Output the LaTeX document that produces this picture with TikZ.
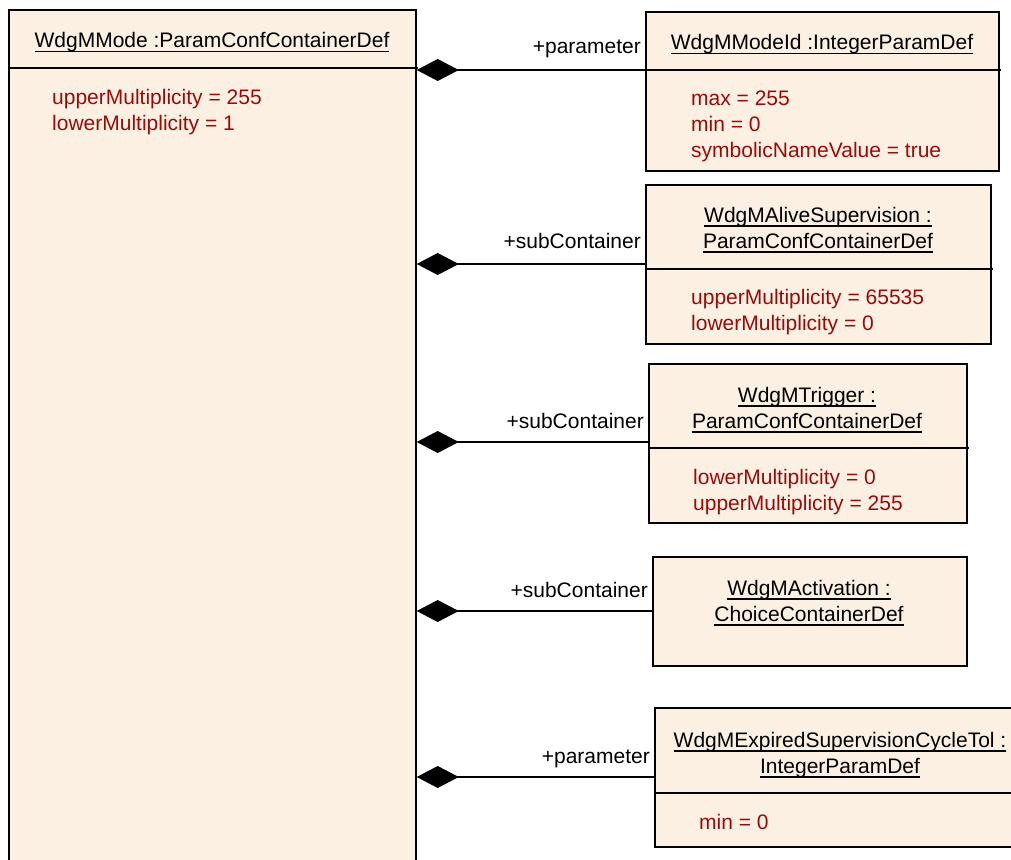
\documentclass[tikz,border=0pt]{standalone}
\usepackage{fontspec}
\setmainfont{Liberation Sans}
\usetikzlibrary{arrows.meta}
\definecolor{boxfill}{RGB}{251,240,226}
\definecolor{attrred}{RGB}{155,10,10}
\newcommand\myul[1]{\setbox0\hbox{#1}\rlap{\rule[-4.5pt]{\wd0}{1.5pt}}\box0}
\begin{document}
\begin{tikzpicture}[x=1pt,y=-1pt,
  cls/.style={draw=black,line width=1.7pt,fill=boxfill,rectangle,anchor=north west,inner sep=0pt},
  ttl/.style={anchor=base,font=\fontsize{21}{26}\selectfont,inner sep=0pt,yshift=-1pt},
  att/.style={anchor=base west,text=attrred,font=\fontsize{21}{26}\selectfont,inner sep=0pt,yshift=-1pt},
  lbl/.style={anchor=base east,font=\fontsize{21}{26}\selectfont,inner sep=0pt,yshift=-1pt},
  sep/.style={line width=1.7pt},
  comp/.style={line width=1.7pt,{Diamond[length=42pt,width=22pt]}-}
]
\useasboundingbox (0,0) rectangle (1011,859);
\clip (0,0) rectangle (1011,859);
\fill[white] (0,0) rectangle (1011,859);

% main container
\node[cls,minimum width=407pt,minimum height=880pt] (mode) at (8,9) {};
\draw[sep] (8,68) -- (418,68);
\node[ttl] (modet) at (212,47) {\myul{WdgMMode :ParamConfContainerDef}};
\node[att] (modea1) at (52,103) {upperMultiplicity = 255};
\node[att] (modea2) at (52,129) {lowerMultiplicity = 1};

% box 1
\node[cls,minimum width=353pt,minimum height=159pt] (b1) at (645,11) {};
\draw[sep] (645,70) -- (1001,70);
\node[ttl] (b1t) at (822,49) {\myul{WdgMModeId :IntegerParamDef}};
\node[att] (b1a1) at (691,104) {max = 255};
\node[att] (b1a2) at (691,130) {min = 0};
\node[att] (b1a3) at (691,156) {symbolicNameValue = true};
\coordinate (c1) at (645,70);
\draw[comp] (mode.east |- c1) -- (c1);
\node[lbl] (l1) at (641,53) {+parameter};

% box 2
\node[cls,minimum width=345pt,minimum height=159pt] (b2) at (645,184) {};
\draw[sep] (645,269) -- (993,269);
\node[ttl] (b2t1) at (818,221) {\myul{WdgMAliveSupervision :}};
\node[ttl] (b2t2) at (818,247) {\myul{ParamConfContainerDef}};
\node[att] (b2a1) at (691,303) {upperMultiplicity = 65535};
\node[att] (b2a2) at (691,329) {lowerMultiplicity = 0};
\coordinate (c2) at (645,264);
\draw[comp] (mode.east |- c2) -- (c2);
\node[lbl] (l2) at (641,247) {+subContainer};

% box 3
\node[cls,minimum width=318pt,minimum height=159pt] (b3) at (648,363) {};
\draw[sep] (648,448) -- (969,448);
\node[ttl] (b3t1) at (807,401) {\myul{WdgMTrigger :}};
\node[ttl] (b3t2) at (807,427) {\myul{ParamConfContainerDef}};
\node[att] (b3a1) at (693,483) {lowerMultiplicity = 0};
\node[att] (b3a2) at (693,509) {upperMultiplicity = 255};
\coordinate (c3) at (648,442);
\draw[comp] (mode.east |- c3) -- (c3);
\node[lbl] (l3) at (644,427) {+subContainer};

% box 4
\node[cls,minimum width=314pt,minimum height=109pt] (b4) at (652,556) {};
\node[ttl] (b4t1) at (809,594) {\myul{WdgMActivation :}};
\node[ttl] (b4t2) at (809,620) {\myul{ChoiceContainerDef}};
\coordinate (c4) at (652,611);
\draw[comp] (mode.east |- c4) -- (c4);
\node[lbl] (l4) at (648,596) {+subContainer};

% box 5
\node[cls,minimum width=372pt,minimum height=139pt] (b5) at (654,707) {};
\draw[sep] (654,793) -- (1030,793);
\node[ttl] (b5t1) at (840,746) {\myul{WdgMExpiredSupervisionCycleTol :}};
\node[ttl] (b5t2) at (840,772) {\myul{IntegerParamDef}};
\node[att] (b5a1) at (699,828) {min = 0};
\coordinate (c5) at (654,777);
\draw[comp] (mode.east |- c5) -- (c5);
\node[lbl] (l5) at (650,762) {+parameter};
\end{tikzpicture}
\end{document}
